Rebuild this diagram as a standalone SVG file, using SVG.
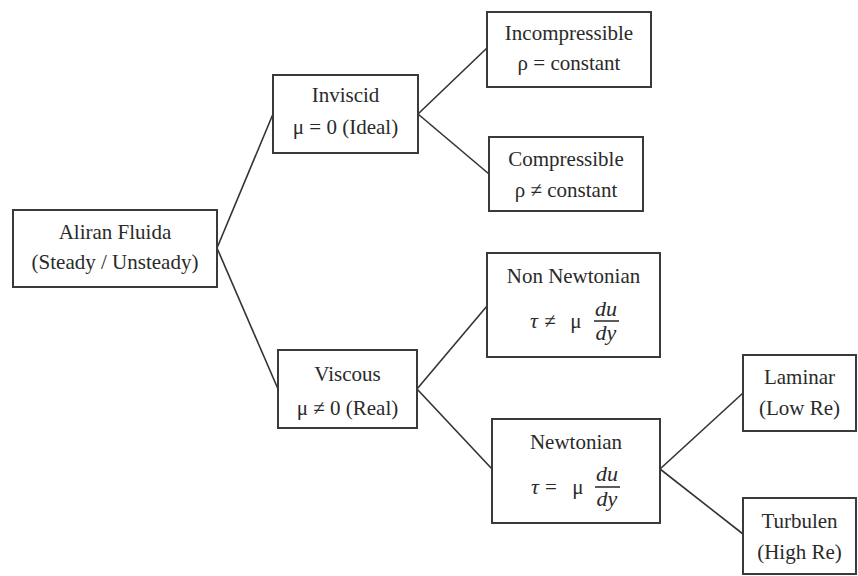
<svg xmlns="http://www.w3.org/2000/svg" width="858" height="576" viewBox="0 0 858 576">
<style>
rect{fill:#fff;stroke:#3a3a3a;stroke-width:2}
text{font-family:"Liberation Serif","Times New Roman",serif;font-size:21px;fill:#2a2a2a;text-anchor:middle}
.m{font-style:italic;font-size:22px}
.c line{stroke:#333;stroke-width:1.6}
.f{stroke:#333;stroke-width:1.6}
</style>
<rect x="0" y="0" width="858" height="576" style="stroke:none"/>
<g class="c" id="connectors">
<line x1="217" y1="248" x2="273" y2="114"/>
<line x1="217" y1="248" x2="278" y2="389"/>
<line x1="418" y1="114" x2="487" y2="48"/>
<line x1="418" y1="114" x2="489" y2="174"/>
<line x1="417" y1="389" x2="487" y2="306"/>
<line x1="417" y1="389" x2="492" y2="469"/>
<line x1="660" y1="469" x2="743" y2="393"/>
<line x1="660" y1="469" x2="743" y2="534"/>
</g>
<g id="aliran">
<rect x="13" y="210" width="204" height="77"/>
<text x="115" y="239">Aliran Fluida</text>
<text x="115" y="269">(Steady / Unsteady)</text>
</g>
<g id="inviscid">
<rect x="273" y="75" width="145" height="78"/>
<text x="345.5" y="102">Inviscid</text>
<text x="345.5" y="134">μ = 0 (Ideal)</text>
</g>
<g id="incompressible">
<rect x="487" y="12" width="164" height="75"/>
<text x="569" y="40">Incompressible</text>
<text x="569" y="70">ρ = constant</text>
</g>
<g id="compressible">
<rect x="489" y="137" width="154" height="74"/>
<text x="566" y="166">Compressible</text>
<text x="566" y="197">ρ ≠ constant</text>
</g>
<g id="viscous">
<rect x="278" y="350" width="139" height="78"/>
<text x="347.5" y="381">Viscous</text>
<text x="347.5" y="415">μ ≠ 0 (Real)</text>
</g>
<g id="nonnewtonian">
<rect x="487" y="253" width="173" height="104"/>
<text x="573.5" y="283">Non Newtonian</text>
<text x="534" y="328" class="m">τ</text>
<text x="550" y="328">≠</text>
<text x="576" y="328">μ</text>
<text x="606" y="316" class="m">du</text>
<line class="f" x1="594" y1="321" x2="619" y2="321"/>
<text x="606" y="340" class="m">dy</text>
</g>
<g id="newtonian">
<rect x="492" y="419" width="168" height="104"/>
<text x="576" y="449">Newtonian</text>
<text x="535" y="494" class="m">τ</text>
<text x="551" y="494">=</text>
<text x="578" y="494">μ</text>
<text x="607" y="481" class="m">du</text>
<line class="f" x1="595" y1="487" x2="620" y2="487"/>
<text x="607" y="506" class="m">dy</text>
</g>
<g id="laminar">
<rect x="743" y="355" width="113" height="76"/>
<text x="799.5" y="384">Laminar</text>
<text x="799.5" y="415">(Low Re)</text>
</g>
<g id="turbulen">
<rect x="743" y="498" width="113" height="76"/>
<text x="799.5" y="528">Turbulen</text>
<text x="799.5" y="559">(High Re)</text>
</g>
</svg>
